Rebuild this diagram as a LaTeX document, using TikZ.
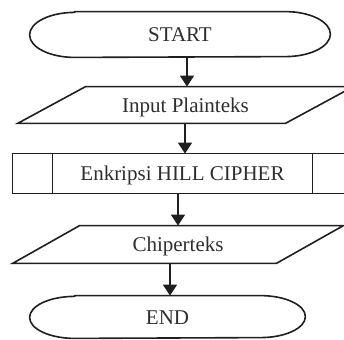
\documentclass[tikz,border=0pt]{standalone}
\usepackage{fontspec}
\setmainfont{Liberation Serif}
\usetikzlibrary{arrows.meta}
\begin{document}
\begin{tikzpicture}[x=0.5pt,y=0.5pt,
  ln/.style={draw=black!88, line width=0.8pt},
  lbl/.style={inner sep=0pt, text height=7pt, text depth=0pt, text=black!82,
    font=\fontsize{10.5}{12}\selectfont},
  arr/.style={ln, -{Triangle[length=5.5pt,width=7pt]}}]
\useasboundingbox (0,0) rectangle (344,-339);
% nodes (invisible frames that carry the text)
\node[lbl, minimum width=150pt, minimum height=22.5pt] (start) at (180,-34.5) {START};
\node[lbl, minimum width=167.5pt, minimum height=18pt] (in1) at (185.5,-105) {Input Plainteks};
\node[lbl, minimum width=169.5pt, minimum height=19.5pt] (proc) at (182.5,-173.5) {Enkripsi HILL CIPHER};
\node[lbl, minimum width=165pt, minimum height=18.5pt] (out1) at (178,-244.5) {Chiperteks};
\node[lbl, minimum width=137.5pt, minimum height=21pt] (end) at (167.5,-317) {END};
% START terminator
\draw[ln] ([xshift=22.5pt]start.north west) -- ([xshift=-22.5pt]start.north east)
  arc[start angle=90, end angle=-90, x radius=22.5pt, y radius=11.25pt]
  -- ([xshift=22.5pt]start.south west)
  arc[start angle=270, end angle=90, x radius=22.5pt, y radius=11.25pt] -- cycle;
% input parallelogram
\draw[ln] (in1.south west) -- ([xshift=-34pt]in1.south east) -- (in1.north east)
  -- ([xshift=34pt]in1.north west) -- cycle;
% predefined process
\draw[ln] (proc.south west) rectangle (proc.north east);
\draw[ln] ([xshift=20pt]proc.north west) -- ([xshift=20pt]proc.south west);
\draw[ln] ([xshift=-20pt]proc.north east) -- ([xshift=-20pt]proc.south east);
% output parallelogram
\draw[ln] (out1.south west) -- ([xshift=-33.5pt]out1.south east) -- (out1.north east)
  -- ([xshift=33.5pt]out1.north west) -- cycle;
% END terminator
\draw[ln] ([xshift=22.5pt]end.north west) -- ([xshift=-22.5pt]end.north east)
  arc[start angle=90, end angle=-90, x radius=22.5pt, y radius=10.5pt]
  -- ([xshift=22.5pt]end.south west)
  arc[start angle=270, end angle=90, x radius=22.5pt, y radius=10.5pt] -- cycle;
% connectors
\path ([xshift=3.5pt]start.south) coordinate (a1)
      ([xshift=-0.25pt]in1.south) coordinate (a2)
      ([xshift=-2.25pt]proc.south) coordinate (a3)
      ([xshift=-4pt]out1.south) coordinate (a4);
\draw[arr] (a1) -- (a1 |- in1.north);
\draw[arr] (a2) -- (a2 |- proc.north);
\draw[arr] (a3) -- (a3 |- out1.north);
\draw[arr] (a4) -- (a4 |- end.north);
\end{tikzpicture}
\end{document}
